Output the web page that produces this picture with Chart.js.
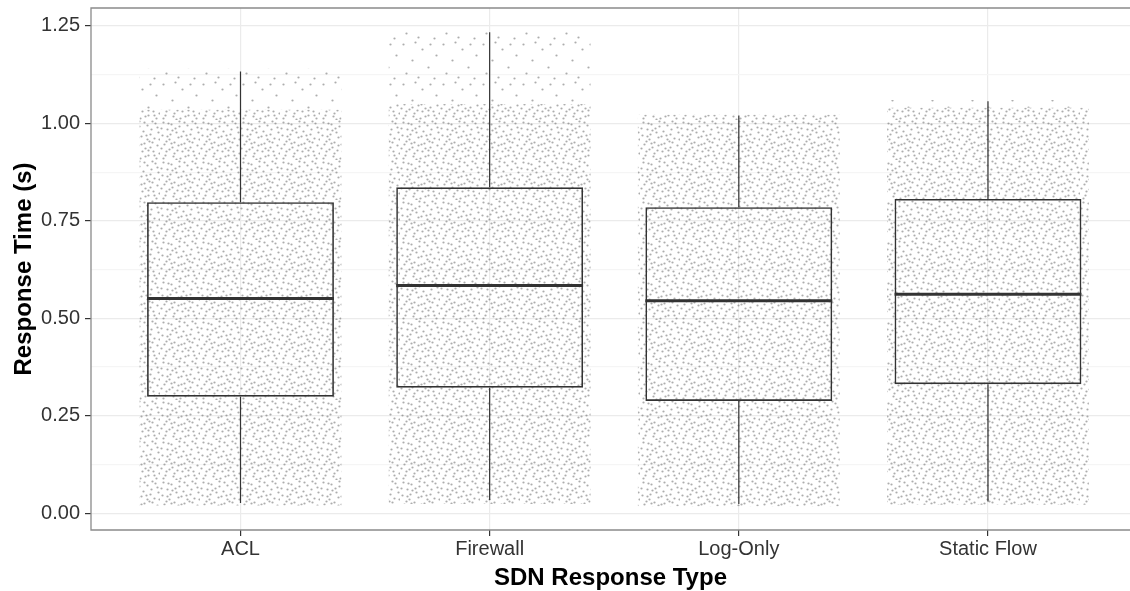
<!DOCTYPE html>
<html>
<head>
<meta charset="utf-8">
<script src="https://cdn.jsdelivr.net/npm/chart.js@4/dist/chart.umd.min.js"></script>
<style>
  html, body { margin: 0; padding: 0; background: #fff; }
  #wrap { width: 1130px; height: 591px; }
</style>
</head>
<body>
<div id="wrap"><canvas id="myChart" width="1130" height="591"></canvas></div>
<script>
// categories on the x axis
const categories = ['ACL', 'Firewall', 'Log-Only', 'Static Flow']
// box plot stats (seconds)
const whiskerLow = [0.026, 0.034, 0.024, 0.030]
const q1 = [0.299, 0.322, 0.288, 0.331]
const median = [0.551, 0.584, 0.545, 0.562]
const q3 = [0.798, 0.836, 0.785, 0.806]
const whiskerHigh = [1.133, 1.234, 1.020, 1.057]
// extent of the jittered raw points: dense part and the sparse tail above it
const cloudLow = [0.020, 0.024, 0.018, 0.022]
const cloudDenseHigh = [1.035, 1.05, 1.022, 1.04]
const cloudHigh = [1.14, 1.235, 1.022, 1.06]
// y ticks
const yTicks = [0, 0.25, 0.5, 0.75, 1, 1.25]
const yMinor = [0.125, 0.375, 0.625, 0.875, 1.125]

const FONT = "'Liberation Sans', Arial, sans-serif"

// dotted fill that stands in for the jittered points
const makeDots = (dots, alpha) => {
  const tile = document.createElement('canvas')
  tile.width = 40
  tile.height = 40
  const t = tile.getContext('2d')
  t.fillStyle = 'rgba(60,60,60,' + alpha + ')'
  dots.forEach(d => {
    t.beginPath()
    t.arc(d[0] + 0.5, d[1] + 0.5, 1.1, 0, Math.PI * 2)
    t.fill()
  })
  return t.createPattern(tile, 'repeat')
}
const denseDots = makeDots([
  [3,2],[11,4],[19,1],[27,5],[35,3],[7,9],[15,8],[23,11],[31,9],[38,12],
  [2,15],[10,14],[18,17],[26,15],[34,18],[6,21],[14,22],[21,24],[29,21],[37,25],
  [1,28],[9,29],[17,30],[25,28],[33,31],[5,35],[13,36],[20,38],[28,35],[36,38],
  [8,3],[16,12],[30,14],[4,24],[12,27],[22,31],[32,22],[39,33],[24,2],[37,7],
  [14,33],[27,19],[9,19],[19,6],[1,8],[30,27],[18,25],[6,31],[34,35],[24,23],
  [12,10],[21,16],[28,30],[3,38],[39,19],[16,39],[32,1],[7,16],[25,36],[11,23]
], 0.42)
const sparseDots = makeDots([[3,4],[22,9],[36,15],[12,20],[28,27],[6,33],[18,37],[34,38],[15,2],[30,4]], 0.42)

const xs = categories.map((c, i) => i + 1)

// whiskers and medians as broken line segments
const whiskerPts = []
const medianPts = []
xs.forEach((x, i) => {
  whiskerPts.push({x: x, y: whiskerLow[i]}, {x: x, y: q1[i]}, {x: x, y: null},
                  {x: x, y: q3[i]}, {x: x, y: whiskerHigh[i]}, {x: x, y: null})
  medianPts.push({x: x - 0.375, y: median[i]}, {x: x + 0.375, y: median[i]}, {x: x, y: null})
})

// panel frame: top, left, bottom (right edge is cut off in the picture)
const panelBorder = {
  id: 'panelBorder',
  afterDraw(chart) {
    const {ctx, chartArea: a} = chart
    ctx.save()
    ctx.strokeStyle = '#8a8a8a'
    ctx.lineWidth = 1.3
    ctx.beginPath()
    ctx.moveTo(a.right + 2, a.top)
    ctx.lineTo(a.left, a.top)
    ctx.lineTo(a.left, a.bottom)
    ctx.lineTo(a.right + 2, a.bottom)
    ctx.stroke()
    ctx.restore()
  }
}

const noEdgePadding = s => {
  s.paddingTop = 0
  s.paddingBottom = 0
  s.paddingLeft = 0
  s.paddingRight = 0
}

let ctx = document.getElementById('myChart')
let myChart = new Chart(ctx, {
  type: 'bar',
  data: {
    datasets: [
      {
        label: 'points',
        data: xs.map((x, i) => ({x: x, y: [cloudLow[i], cloudDenseHigh[i]]})),
        backgroundColor: denseDots,
        borderWidth: 0,
        grouped: false,
        barPercentage: 0.81,
        categoryPercentage: 1,
        order: 10
      },
      {
        label: 'points tail',
        data: xs.map((x, i) => ({x: x, y: [cloudDenseHigh[i], cloudHigh[i]]})),
        backgroundColor: sparseDots,
        borderWidth: 0,
        grouped: false,
        barPercentage: 0.81,
        categoryPercentage: 1,
        order: 9
      },
      {
        label: 'box',
        data: xs.map((x, i) => ({x: x, y: [q1[i], q3[i]]})),
        backgroundColor: 'rgba(0,0,0,0)',
        borderColor: '#333333',
        borderWidth: 1.6,
        borderSkipped: false,
        grouped: false,
        barPercentage: 0.75,
        categoryPercentage: 1,
        order: 2
      },
      {
        type: 'line',
        label: 'whiskers',
        data: whiskerPts,
        borderColor: '#333333',
        borderWidth: 1.2,
        pointRadius: 0,
        spanGaps: false,
        order: 1
      },
      {
        type: 'line',
        label: 'median',
        data: medianPts,
        borderColor: '#333333',
        borderWidth: 3,
        pointRadius: 0,
        spanGaps: false,
        order: 0
      }
    ]
  },
  options: {
    responsive: false,
    animation: false,
    layout: { padding: { top: 8, right: 0, left: 0, bottom: 0 } },
    plugins: { legend: { display: false }, tooltip: { enabled: false } },
    scales: {
      x: {
        type: 'linear',
        offset: false,
        min: 0.4,
        max: 4.57,
        afterBuildTicks: s => { s.ticks = xs.map(v => ({value: v})) },
        afterFit: s => { s.height = 61; noEdgePadding(s) },
        ticks: {
          callback: v => categories[v - 1],
          font: { family: FONT, size: 20 },
          color: '#333333',
          padding: 1,
          maxRotation: 0,
          autoSkip: false
        },
        grid: { offset: false, color: '#ebebeb', lineWidth: 1.2, tickColor: '#333333', tickLength: 6 },
        border: { display: false },
        title: {
          display: true,
          text: 'SDN Response Type',
          font: { family: FONT, size: 24, weight: 'bold', lineHeight: 1 },
          color: '#000000',
          padding: { top: 0, bottom: 1 }
        }
      },
      y: {
        min: -0.043,
        max: 1.296,
        afterBuildTicks: s => { s.ticks = yTicks.concat(yMinor).sort((a, b) => a - b).map(v => ({value: v})) },
        afterFit: s => { s.width = 91; noEdgePadding(s) },
        ticks: {
          callback: v => yTicks.includes(v) ? v.toFixed(2) : '',
          font: { family: FONT, size: 20 },
          color: '#333333',
          padding: 5
        },
        grid: {
          color: c => yTicks.includes(c.tick.value) ? '#ebebeb' : '#f5f5f5',
          lineWidth: 1.2,
          tickColor: c => yTicks.includes(c.tick.value) ? '#333333' : 'rgba(0,0,0,0)',
          tickLength: 6
        },
        border: { display: false },
        title: {
          display: true,
          text: 'Response Time (s)',
          font: { family: FONT, size: 24, weight: 'bold' },
          color: '#000000',
          padding: { top: 10, bottom: 0 }
        }
      }
    }
  },
  plugins: [panelBorder]
})
</script>
</body>
</html>
